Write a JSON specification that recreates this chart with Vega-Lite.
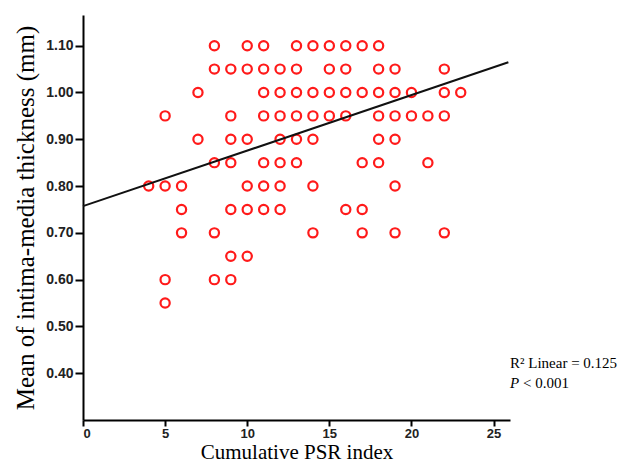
{
  "$schema": "https://vega.github.io/schema/vega-lite/v6.json",
  "autosize": {"type": "none"},
  "width": 427,
  "height": 405,
  "padding": {"left": 83, "top": 15, "right": 109, "bottom": 42},
  "background": "white",
  "config": {
    "view": {"stroke": null},
    "axis": {
      "grid": false,
      "domainColor": "black",
      "domainWidth": 2,
      "tickColor": "black",
      "tickWidth": 2,
      "labelFont": "Liberation Sans",
      "labelFontWeight": "bold",
      "labelFontSize": 14,
      "labelColor": "#222",
      "titleFont": "Liberation Serif",
      "titleFontWeight": "normal",
      "titleColor": "black"
    }
  },
  "datasets": {
    "pts": [
      {"psr": 8, "imt": 1.10}, {"psr": 10, "imt": 1.10}, {"psr": 11, "imt": 1.10}, {"psr": 13, "imt": 1.10}, {"psr": 14, "imt": 1.10}, {"psr": 15, "imt": 1.10}, {"psr": 16, "imt": 1.10}, {"psr": 17, "imt": 1.10}, {"psr": 18, "imt": 1.10},
      {"psr": 8, "imt": 1.05}, {"psr": 9, "imt": 1.05}, {"psr": 10, "imt": 1.05}, {"psr": 11, "imt": 1.05}, {"psr": 12, "imt": 1.05}, {"psr": 13, "imt": 1.05}, {"psr": 15, "imt": 1.05}, {"psr": 16, "imt": 1.05}, {"psr": 18, "imt": 1.05}, {"psr": 19, "imt": 1.05}, {"psr": 22, "imt": 1.05},
      {"psr": 7, "imt": 1.00}, {"psr": 11, "imt": 1.00}, {"psr": 12, "imt": 1.00}, {"psr": 13, "imt": 1.00}, {"psr": 14, "imt": 1.00}, {"psr": 15, "imt": 1.00}, {"psr": 16, "imt": 1.00}, {"psr": 17, "imt": 1.00}, {"psr": 18, "imt": 1.00}, {"psr": 19, "imt": 1.00}, {"psr": 20, "imt": 1.00}, {"psr": 22, "imt": 1.00}, {"psr": 23, "imt": 1.00},
      {"psr": 5, "imt": 0.95}, {"psr": 9, "imt": 0.95}, {"psr": 11, "imt": 0.95}, {"psr": 12, "imt": 0.95}, {"psr": 13, "imt": 0.95}, {"psr": 14, "imt": 0.95}, {"psr": 15, "imt": 0.95}, {"psr": 16, "imt": 0.95}, {"psr": 18, "imt": 0.95}, {"psr": 19, "imt": 0.95}, {"psr": 20, "imt": 0.95}, {"psr": 21, "imt": 0.95}, {"psr": 22, "imt": 0.95},
      {"psr": 7, "imt": 0.90}, {"psr": 9, "imt": 0.90}, {"psr": 10, "imt": 0.90}, {"psr": 12, "imt": 0.90}, {"psr": 13, "imt": 0.90}, {"psr": 14, "imt": 0.90}, {"psr": 18, "imt": 0.90}, {"psr": 19, "imt": 0.90},
      {"psr": 8, "imt": 0.85}, {"psr": 9, "imt": 0.85}, {"psr": 11, "imt": 0.85}, {"psr": 12, "imt": 0.85}, {"psr": 13, "imt": 0.85}, {"psr": 17, "imt": 0.85}, {"psr": 18, "imt": 0.85}, {"psr": 21, "imt": 0.85},
      {"psr": 4, "imt": 0.80}, {"psr": 5, "imt": 0.80}, {"psr": 6, "imt": 0.80}, {"psr": 10, "imt": 0.80}, {"psr": 11, "imt": 0.80}, {"psr": 12, "imt": 0.80}, {"psr": 14, "imt": 0.80}, {"psr": 19, "imt": 0.80},
      {"psr": 6, "imt": 0.75}, {"psr": 9, "imt": 0.75}, {"psr": 10, "imt": 0.75}, {"psr": 11, "imt": 0.75}, {"psr": 12, "imt": 0.75}, {"psr": 16, "imt": 0.75}, {"psr": 17, "imt": 0.75},
      {"psr": 6, "imt": 0.70}, {"psr": 8, "imt": 0.70}, {"psr": 14, "imt": 0.70}, {"psr": 17, "imt": 0.70}, {"psr": 19, "imt": 0.70}, {"psr": 22, "imt": 0.70},
      {"psr": 9, "imt": 0.65}, {"psr": 10, "imt": 0.65},
      {"psr": 5, "imt": 0.60}, {"psr": 8, "imt": 0.60}, {"psr": 9, "imt": 0.60},
      {"psr": 5, "imt": 0.55}
    ],
    "fit": [
      {"psr": 0, "imt": 0.757},
      {"psr": 25.9, "imt": 1.0645}
    ],
    "notes": [
      {"psr": 26, "imt": 0.4218, "txt": "R² Linear = 0.125"}
    ],
    "pnote": [
      {"psr": 26, "imt": 0.379, "p": "P", "rest": "< 0.001"}
    ]
  },
  "layer": [
    {
      "data": {"name": "pts"},
      "mark": {"type": "point", "shape": "circle", "filled": false, "stroke": "#ff1a1a", "strokeWidth": 2.2, "size": 85, "opacity": 1},
      "encoding": {
        "x": {"field": "psr", "type": "quantitative", "scale": {"domain": [0, 26], "nice": false, "zero": false}, "axis": {"values": [0, 5, 10, 15, 20, 25], "title": "Cumulative PSR index", "titleFontSize": 21, "labelFontSize": 13, "tickSize": 6, "labelPadding": 1, "titlePadding": 1}},
        "y": {"field": "imt", "type": "quantitative", "scale": {"domain": [0.3, 1.1656], "nice": false, "zero": false}, "axis": {"values": [0.4, 0.5, 0.6, 0.7, 0.8, 0.9, 1.0, 1.1], "format": ".2f", "title": "Mean of intima-media thickness (mm)", "titleFontSize": 25, "tickSize": 8, "labelPadding": 2, "titlePadding": 7}}
      }
    },
    {
      "data": {"name": "fit"},
      "mark": {"type": "line", "color": "#111", "strokeWidth": 2},
      "encoding": {
        "x": {"field": "psr", "type": "quantitative"},
        "y": {"field": "imt", "type": "quantitative"}
      }
    },
    {
      "data": {"name": "notes"},
      "mark": {"type": "text", "align": "left", "baseline": "middle", "font": "Liberation Serif", "fontSize": 15, "color": "black"},
      "encoding": {
        "x": {"field": "psr", "type": "quantitative"},
        "y": {"field": "imt", "type": "quantitative"},
        "text": {"field": "txt"}
      }
    },
    {
      "data": {"name": "pnote"},
      "mark": {"type": "text", "align": "left", "baseline": "middle", "font": "Liberation Serif", "fontSize": 15, "fontStyle": "italic", "color": "black"},
      "encoding": {
        "x": {"field": "psr", "type": "quantitative"},
        "y": {"field": "imt", "type": "quantitative"},
        "text": {"field": "p"}
      }
    },
    {
      "data": {"name": "pnote"},
      "mark": {"type": "text", "align": "left", "baseline": "middle", "font": "Liberation Serif", "fontSize": 15, "color": "black", "dx": 13},
      "encoding": {
        "x": {"field": "psr", "type": "quantitative"},
        "y": {"field": "imt", "type": "quantitative"},
        "text": {"field": "rest"}
      }
    }
  ]
}
